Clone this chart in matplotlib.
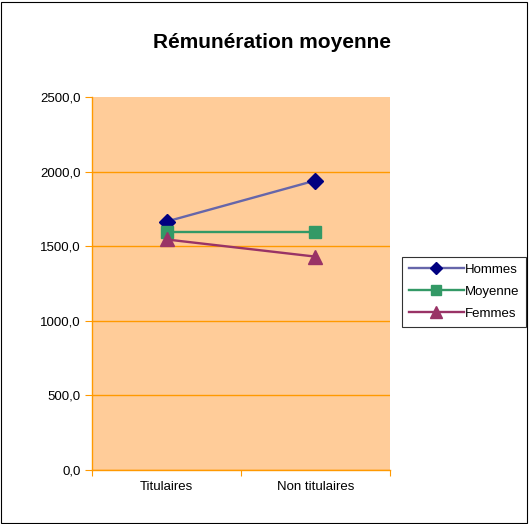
import matplotlib
matplotlib.use("Agg")
from matplotlib import pyplot as plt
from matplotlib.ticker import FuncFormatter
from matplotlib.patches import Rectangle

plt.rcParams['font.family'] = ['Liberation Sans', 'DejaVu Sans']

categories = ["Titulaires", "Non titulaires"]
hommes = [1665, 1940]
moyenne = [1595, 1595]
femmes = [1545, 1430]

fig = plt.figure(figsize=(5.29, 5.24), dpi=100)
ax = fig.add_axes([0.174, 0.103, 0.563, 0.712])
fig.patches.append(Rectangle((0.002, 0.002), 0.994, 0.994, transform=fig.transFigure,
                             fill=False, edgecolor="black", linewidth=0.8))

ax.set_facecolor("#FFCC99")
x = [i + 0.5 for i in range(len(categories))]

ax.plot(x, hommes, color="#6666AA", linewidth=1.7, marker="D", markersize=8,
        markerfacecolor="#000080", markeredgecolor="#000080", label="Hommes", zorder=3)
ax.plot(x, moyenne, color="#339966", linewidth=1.7, marker="s", markersize=9,
        markerfacecolor="#339966", markeredgecolor="#339966", label="Moyenne", zorder=3)
ax.plot(x, femmes, color="#993366", linewidth=1.7, marker="^", markersize=10,
        markerfacecolor="#993366", markeredgecolor="#993366", label="Femmes", zorder=3)

ax.set_xlim(0, len(categories))
ax.set_ylim(0, 2500)
ax.set_yticks(range(0, 2501, 500))
ax.yaxis.set_major_formatter(FuncFormatter(lambda v, p: "{:.1f}".format(v).replace(".", ",")))
ax.set_xticks(range(len(categories) + 1))
ax.set_xticklabels([])
ax.set_xticks(x, minor=True)
ax.set_xticklabels(categories, minor=True)
ax.tick_params(axis="x", which="minor", length=0, pad=8, labelsize=9.5)
ax.tick_params(axis="x", which="major", length=4, color="#FF9900")
ax.tick_params(axis="y", length=5, color="#FF9900", labelsize=9.5, pad=3)

ax.grid(axis="y", color="#FF9900", linewidth=1)
ax.yaxis.get_gridlines()[-1].set_visible(False)
ax.set_axisbelow(True)
for s in ["top", "right"]:
    ax.spines[s].set_visible(False)
for s in ["left", "bottom"]:
    ax.spines[s].set_color("#FF9900")
    ax.spines[s].set_linewidth(1)

fig.text(0.514, 0.918, "Rémunération moyenne", ha="center", va="center",
         fontsize=15, fontweight="bold")

leg = fig.legend(loc="center left", bbox_to_anchor=(0.76, 0.443), fontsize=9.5,
                 frameon=True, fancybox=False, edgecolor="black", borderpad=0.5,
                 handlelength=4.2, handletextpad=0.1, labelspacing=0.75,
                 borderaxespad=0, markerscale=0.8)
leg.get_frame().set_linewidth(0.8)

plt.savefig("out.png", dpi=100)
